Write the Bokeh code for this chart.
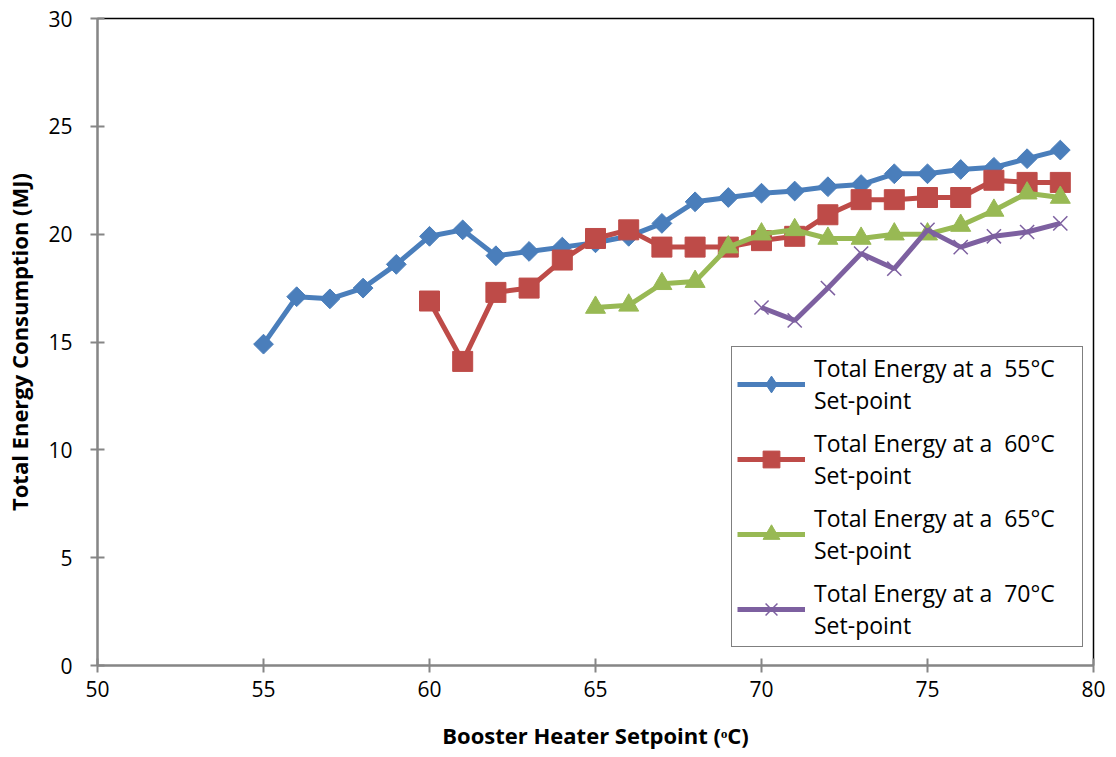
from math import pi

from bokeh.embed import file_html
from bokeh.models import Legend, LegendItem, Range1d
from bokeh.plotting import figure
from bokeh.resources import INLINE

# Booster heater setpoint (°C) for each tank set-point series
x55 = list(range(55, 80))
x60 = list(range(60, 80))
x65 = list(range(65, 80))
x70 = list(range(70, 80))

# Total energy consumption (MJ)
e55 = [14.9, 17.1, 17.0, 17.5, 18.6, 19.9, 20.2, 19.0, 19.2, 19.4,
       19.6, 19.9, 20.5, 21.5, 21.7, 21.9, 22.0, 22.2, 22.3, 22.8,
       22.8, 23.0, 23.1, 23.5, 23.9]
e60 = [16.9, 14.1, 17.3, 17.5, 18.8, 19.8, 20.2, 19.4, 19.4, 19.4,
       19.7, 19.9, 20.9, 21.6, 21.6, 21.7, 21.7, 22.5, 22.4, 22.4]
e65 = [16.6, 16.7, 17.7, 17.8, 19.4, 20.0, 20.2, 19.8, 19.8, 20.0,
       20.0, 20.4, 21.1, 21.9, 21.7]
e70 = [16.6, 16.0, 17.5, 19.1, 18.4, 20.2, 19.4, 19.9, 20.1, 20.5]

labels = [
    "Total Energy at a  55°C\nSet-point",
    "Total Energy at a  60°C\nSet-point",
    "Total Energy at a  65°C\nSet-point",
    "Total Energy at a  70°C\nSet-point",
]
colors = ["#4A7EBB", "#BE4B48", "#98B954", "#7D60A0"]

FONT = "Open Sans"

p = figure(
    width=1116, height=757,
    x_range=Range1d(50, 80), y_range=Range1d(0, 30),
    output_backend="svg", toolbar_location=None,
    min_border_left=97, min_border_right=23,
    min_border_top=18, min_border_bottom=92,
    background_fill_color="white", border_fill_color="white",
)
p.xgrid.visible = False
p.ygrid.visible = False
p.outline_line_color = "black"
p.outline_line_width = 1.5

for ax in (p.xaxis[0], p.yaxis[0]):
    ax.axis_line_color = "#868686"
    ax.axis_line_width = 2
    ax.major_tick_line_color = "#868686"
    ax.major_tick_line_width = 2
    ax.minor_tick_line_color = "#868686"
    ax.minor_tick_line_width = 1.5
    ax.major_tick_in = 7
    ax.major_tick_out = 7
    ax.minor_tick_in = 5
    ax.minor_tick_out = 0
    ax.major_label_text_font = FONT
    ax.major_label_text_font_size = "21px"
    ax.major_label_text_color = "black"
    ax.axis_label_text_font = FONT
    ax.axis_label_text_font_size = "22px"
    ax.axis_label_text_font_style = "bold"
    ax.axis_label_text_color = "black"

p.xaxis.ticker = list(range(50, 81, 5))
p.xaxis[0].ticker.num_minor_ticks = 5
p.yaxis.ticker = list(range(0, 31, 5))
p.yaxis[0].ticker.num_minor_ticks = 5
p.xaxis.major_label_standoff = 8
p.yaxis.major_label_standoff = 18
p.xaxis.axis_label = "Booster Heater Setpoint (ᵒC)"
p.yaxis.axis_label = "Total Energy Consumption (MJ)"
p.xaxis.axis_label_standoff = 20
p.yaxis.axis_label_standoff = 11

items = []
series = [(x55, e55), (x60, e60), (x65, e65), (x70, e70)]
for i, (xs, ys) in enumerate(series):
    c = colors[i]
    ln = p.line(xs, ys, line_color=c, line_width=5)
    if i == 0:
        mk = p.scatter(xs, ys, marker="square", size=14, angle=pi / 4,
                       fill_color=c, line_color=c)
        # upright diamond used only as the legend swatch (no visible point)
        key = p.scatter([float("nan")], [float("nan")], marker="diamond",
                        fill_color=c, line_color=c)
    elif i == 1:
        mk = p.scatter(xs, ys, marker="square", size=20,
                       fill_color=c, line_color=c)
        key = mk
    elif i == 2:
        mk = p.scatter(xs, ys, marker="triangle", size=20,
                       fill_color=c, line_color=c)
        key = mk
    else:
        mk = p.scatter(xs, ys, marker="x", size=20,
                       line_color=c, line_width=1.5)
        key = mk
    items.append(LegendItem(label=labels[i], renderers=[ln, key]))

legend = Legend(
    items=items,
    location=(634, 18),
    label_text_font=FONT,
    label_text_font_size="23px",
    label_text_color="black",
    label_text_line_height=1.6,
    label_width=263,
    glyph_width=68,
    glyph_height=42,
    spacing=11,
    padding=5,
    margin=0,
    border_line_color="black",
    border_line_width=1.5,
    background_fill_color="white",
    background_fill_alpha=1.0,
    label_standoff=9,
)
p.add_layout(legend, "center")

open("out.html", "w").write(file_html(p, INLINE))
